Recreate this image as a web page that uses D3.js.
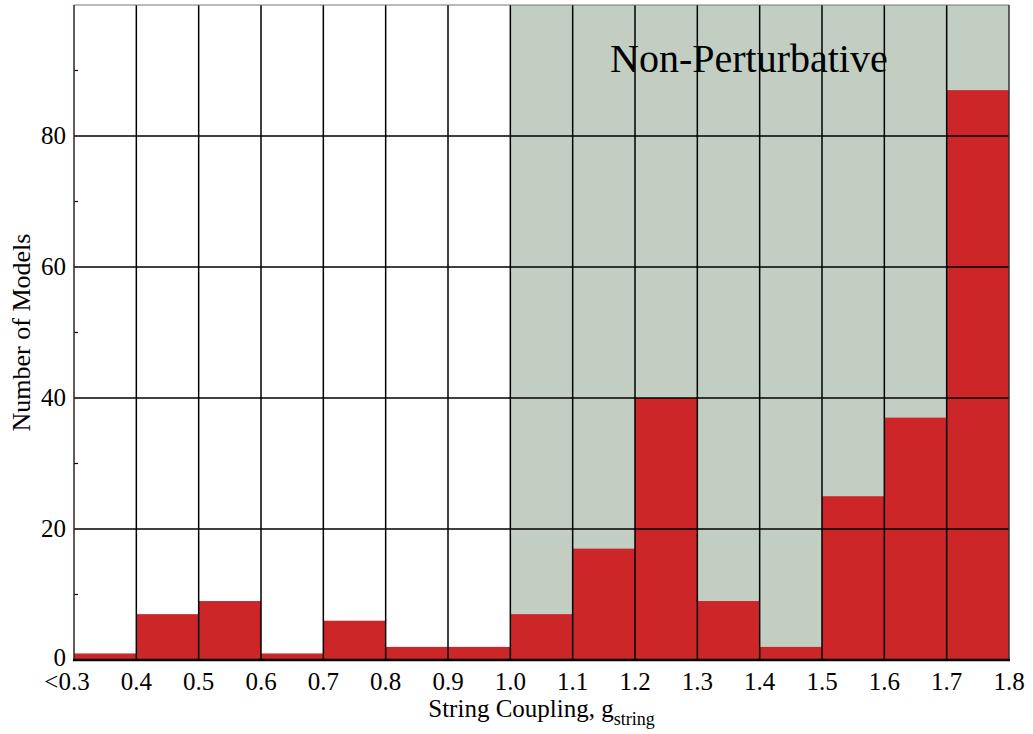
<!DOCTYPE html>
<html>
<head>
<meta charset="utf-8">
<script src="https://cdn.jsdelivr.net/npm/d3@7/dist/d3.min.js"></script>
<style>
	body { margin: 0; background: #fff; }
	svg { display: block; font-family: 'Liberation Serif', 'Times New Roman', serif; }
</style>
</head>
<body>
<div id="canvas"></div>
<script>
// Data
var binEdges = [0.3, 0.4, 0.5, 0.6, 0.7, 0.8, 0.9, 1.0, 1.1, 1.2, 1.3, 1.4, 1.5, 1.6, 1.7, 1.8],
	edgeLabels = ['<0.3', '0.4', '0.5', '0.6', '0.7', '0.8', '0.9', '1.0', '1.1', '1.2', '1.3', '1.4', '1.5', '1.6', '1.7', '1.8'],
	counts = [1, 7, 9, 1, 6, 2, 2, 7, 17, 40, 9, 2, 25, 37, 87],
	yTicks = [0, 20, 40, 60, 80],
	yMinorTicks = [10, 30, 50, 70, 90],
	shadeRange = [1.0, 1.8];

// UI
var width = 1033,
	height = 734,
	margin = { left: 74, right: 24, top: 5, bottom: 74 },
	barColor = '#cc2629',
	shadeColor = '#c2cec2',
	gridColor = '#000';

var svg = d3.select('#canvas').append('svg')
	.attr('width', width)
	.attr('height', height);

var x = d3.scaleLinear().domain([0.3, 1.8]).range([margin.left, width - margin.right]),
	y = d3.scaleLinear().domain([0, 100]).range([height - margin.bottom, margin.top]);

// Shaded non-perturbative region
svg.append('rect')
	.attr('x', x(shadeRange[0]))
	.attr('y', y(100))
	.attr('width', x(shadeRange[1]) - x(shadeRange[0]))
	.attr('height', y(0) - y(100))
	.attr('fill', shadeColor);

// Bars
svg.append('g').selectAll('rect')
	.data(counts)
	.enter()
	.append('rect')
		.attr('x', function(d, i) { return x(binEdges[i]); })
		.attr('y', function(d) { return y(d); })
		.attr('width', function(d, i) { return x(binEdges[i + 1]) - x(binEdges[i]); })
		.attr('height', function(d) { return y(0) - y(d); })
		.attr('fill', barColor);

// Grid lines
svg.append('g').selectAll('line')
	.data(yTicks.filter(function(d) { return d > 0; }))
	.enter()
	.append('line')
		.attr('x1', x.range()[0]).attr('x2', x.range()[1])
		.attr('y1', function(d) { return y(d); }).attr('y2', function(d) { return y(d); })
		.attr('stroke', gridColor).attr('stroke-width', 1.5);

svg.append('g').selectAll('line')
	.data(binEdges.slice(1, -1))
	.enter()
	.append('line')
		.attr('x1', function(d) { return x(d); }).attr('x2', function(d) { return x(d); })
		.attr('y1', y(0)).attr('y2', y(100))
		.attr('stroke', gridColor).attr('stroke-width', 1.5);

// Minor ticks
svg.append('g').selectAll('line')
	.data(yMinorTicks)
	.enter()
	.append('line')
		.attr('x1', x.range()[0]).attr('x2', x.range()[0] + 4)
		.attr('y1', function(d) { return y(d); }).attr('y2', function(d) { return y(d); })
		.attr('stroke', gridColor).attr('stroke-width', 1.2);

// Frame
svg.append('line')
	.attr('x1', x.range()[0]).attr('x2', x.range()[1])
	.attr('y1', y(100)).attr('y2', y(100))
	.attr('stroke', '#777').attr('stroke-width', 1.2);
svg.append('line')
	.attr('x1', x.range()[1]).attr('x2', x.range()[1])
	.attr('y1', y(0)).attr('y2', y(100))
	.attr('stroke', '#333').attr('stroke-width', 1.5);
svg.append('line')
	.attr('x1', x.range()[0]).attr('x2', x.range()[0])
	.attr('y1', y(0)).attr('y2', y(100))
	.attr('stroke', '#3a2020').attr('stroke-width', 1.5);
svg.append('line')
	.attr('x1', x.range()[0] - 1).attr('x2', x.range()[1] + 1)
	.attr('y1', y(0)).attr('y2', y(0))
	.attr('stroke', '#000').attr('stroke-width', 2.5);

// Y tick labels
svg.append('g').selectAll('text')
	.data(yTicks)
	.enter()
	.append('text')
		.attr('x', x.range()[0] - 8)
		.attr('y', function(d) { return y(d) + (d === 0 ? 6 : 8); })
		.attr('text-anchor', 'end')
		.attr('font-size', 25)
		.text(function(d) { return d; });

// X tick labels
svg.append('g').selectAll('text')
	.data(binEdges)
	.enter()
	.append('text')
		.attr('x', function(d, i) { return x(d) + (i === 0 ? -7 : 0); })
		.attr('y', y(0) + 30)
		.attr('text-anchor', 'middle')
		.attr('font-size', 25)
		.text(function(d, i) { return edgeLabels[i]; });

// Axis titles
var xTitle = svg.append('text')
	.attr('x', (x.range()[0] + x.range()[1]) / 2)
	.attr('y', y(0) + 57)
	.attr('text-anchor', 'middle')
	.attr('font-size', 25);
xTitle.append('tspan').text('String Coupling, g');
xTitle.append('tspan').attr('dy', 8).attr('font-size', 18).text('string');

svg.append('text')
	.attr('transform', 'translate(30,' + y(50) + ') rotate(-90)')
	.attr('text-anchor', 'middle')
	.attr('font-size', 26)
	.text('Number of Models');

// Region label
svg.append('text')
	.attr('x', 610)
	.attr('y', y(89.8))
	.attr('font-size', 40)
	.text('Non-Perturbative');
</script>
</body>
</html>
